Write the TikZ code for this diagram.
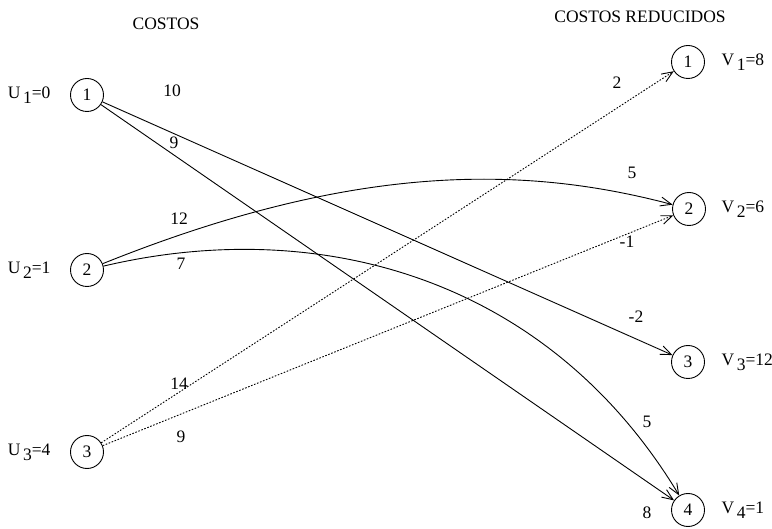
\documentclass[tikz,border=0pt]{standalone}
\usepackage{fontspec}
\setmainfont{Liberation Serif}
\usetikzlibrary{arrows.meta}
\newcommand{\lowidx}[1]{\kern0.15em\raisebox{-0.65ex}{#1}}
\begin{document}
\begin{tikzpicture}[x=1pt,y=-1pt,font=\fontsize{17.5}{20}\selectfont]
        \tikzstyle{nodo}=[circle,draw=black,line width=0.9pt,minimum size=33pt,inner sep=0pt]
        \tikzstyle{arco}=[draw,line width=0.9pt,-{Straight Barb[length=11pt,width=9pt]}]
        \tikzstyle{punteado}=[arco,dash pattern=on 1.6pt off 1.6pt]
        \tikzstyle{costo}=[inner sep=0pt]
        \useasboundingbox (0,0) rectangle (772,529);
        \node (t1) at (166,24) {COSTOS};
        \node (t2) at (640,17) {COSTOS REDUCIDOS};
        \begin{scope}
           \node [nodo] (o1) at (87,95) {1};
           \node [nodo] (o2) at (87,270) {2};
           \node [nodo] (o3) at (87,452) {3};
           \node [nodo] (d1) at (688,62) {1};
           \node [nodo] (d2) at (689,209) {2};
           \node [nodo] (d3) at (688,362) {3};
           \node [nodo] (d4) at (688,510) {4};
           \node [anchor=east] (u1) at (54,95) {U\lowidx{1}=0};
           \node [anchor=east] (u2) at (54,270) {U\lowidx{2}=1};
           \node [anchor=east] (u3) at (54,452) {U\lowidx{3}=4};
           \node [anchor=west] (v1) at (718,62) {V\lowidx{1}=8};
           \node [anchor=west] (v2) at (718,209) {V\lowidx{2}=6};
           \node [anchor=west] (v3) at (718,362) {V\lowidx{3}=12};
           \node [anchor=west] (v4) at (718,510) {V\lowidx{4}=1};
           % costos
           \path[arco] (o1) -- (d3);
           \path[arco] (o1) -- (d4);
           \path[arco] (o2) .. controls (353,163) and (523,165) .. (d2);
           \path[arco] (o2) .. controls (320,215) and (548,278) .. (d4);
           \path[punteado] (o3) -- (d1);
           \path[punteado] (o3) -- (d2);
           \node [costo] (c13) at (172,91) {10};
           \node [costo] (c14) at (174,143) {9};
           \node [costo] (c22) at (179,219) {12};
           \node [costo] (c24) at (181,264) {7};
           \node [costo] (c31) at (179,384) {14};
           \node [costo] (c32) at (181,437) {9};
           % costos reducidos
           \node [costo] (r31) at (617,83) {2};
           \node [costo] (r22) at (632,173) {5};
           \node [costo] (r32) at (627,242) {-1};
           \node [costo] (r13) at (636,317) {-2};
           \node [costo] (r24) at (647,422) {5};
           \node [costo] (r14) at (647,513) {8};
        \end{scope}
      \end{tikzpicture}
\end{document}
